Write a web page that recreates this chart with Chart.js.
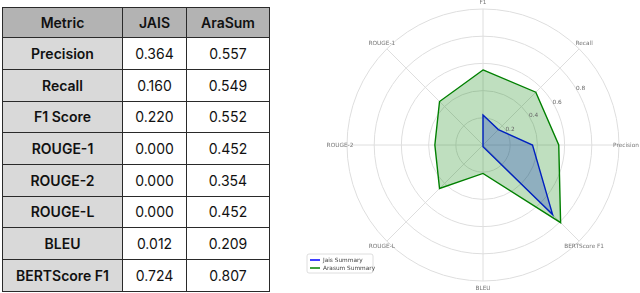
<!DOCTYPE html>
<html lang="en">
<head>
    <meta charset="UTF-8">
    <title>JAIS vs AraSum</title>
    <script src="https://cdn.jsdelivr.net/npm/chart.js"></script>
    <style>
        html, body { margin: 0; padding: 0; background: #fff; width: 640px; height: 293px; overflow: hidden; }
        #scores {
            position: absolute; left: 2px; top: 7px;
            border-collapse: collapse; table-layout: fixed;
            font-family: Inter, "Noto Sans", sans-serif; font-size: 14px; color: #111;
        }
        #scores td, #scores th {
            border: 1.5px solid #2a2a2a; text-align: center; padding: 0;
            height: 30.7px; background: #fff; font-weight: 400;
        }
        #scores th { background: #b3b3b3; font-weight: 600; height: 29.2px; }
        #scores td.name { background: #d9d9d9; font-weight: 600; }
        #radarBox { position: absolute; left: 300px; top: 0; width: 340px; height: 293px; }
    </style>
</head>
<body>
    <table id="scores">
        <colgroup><col style="width:120px"><col style="width:64px"><col style="width:83px"></colgroup>
        <thead><tr id="head"></tr></thead>
        <tbody id="rows"></tbody>
    </table>
    <div id="radarBox"><canvas id="radar"></canvas></div>

    <script>
        // table data
        const columns = ['Metric', 'JAIS', 'AraSum'];
        const metrics = ['Precision', 'Recall', 'F1 Score', 'ROUGE-1', 'ROUGE-2', 'ROUGE-L', 'BLEU', 'BERTScore F1'];
        const jaisScores = [0.364, 0.160, 0.220, 0.000, 0.000, 0.000, 0.012, 0.724];
        const arasumScores = [0.557, 0.549, 0.552, 0.452, 0.354, 0.452, 0.209, 0.807];

        // radar axes, clockwise from the top, and which metric each one shows
        const radarLabels = ['F1', 'Recall', 'Precision', 'BERTScore F1', 'BLEU', 'ROUGE-L', 'ROUGE-2', 'ROUGE-1'];
        const radarOrder = [2, 1, 0, 7, 6, 5, 4, 3];
        const tickValues = [0.2, 0.4, 0.6, 0.8];
        const seriesNames = ['Jais Summary', 'Arasum Summary'];

        document.getElementById('head').innerHTML = columns.map(c => `<th>${c}</th>`).join('');
        document.getElementById('rows').innerHTML = metrics.map((m, i) => `
            <tr><td class="name">${m}</td><td>${jaisScores[i].toFixed(3)}</td><td>${arasumScores[i].toFixed(3)}</td></tr>
        `).join('');

        const smallFont = '5.8px "DejaVu Sans", sans-serif';

        // axis labels, r tick labels and legend, matplotlib style
        const polarExtras = {
            id: 'polarExtras',
            afterDatasetsDraw(chart) {
                const ctx = chart.ctx;
                const scale = chart.scales.r;
                ctx.save();
                ctx.font = smallFont;
                ctx.textAlign = 'center';
                ctx.textBaseline = 'middle';

                ctx.fillStyle = '#777';
                radarLabels.forEach((lab, i) => {
                    const p = scale.getPointPosition(i, scale.drawingArea + 7);
                    ctx.fillText(lab, p.x, p.y);
                });

                ctx.fillStyle = '#666';
                const a = Math.PI / 6;
                tickValues.forEach(v => {
                    const d = scale.getDistanceFromCenterForValue(v) + 4;
                    ctx.fillText(v.toFixed(1), scale.xCenter + d * Math.cos(a), scale.yCenter - d * Math.sin(a));
                });

                // legend
                const bx = chart.chartArea.left - 40, by = chart.chartArea.bottom - 27;
                ctx.fillStyle = 'rgba(255,255,255,0.8)';
                ctx.strokeStyle = '#d6d6d6';
                ctx.lineWidth = 0.8;
                ctx.beginPath();
                ctx.roundRect(bx, by, 66, 19, 2);
                ctx.fill();
                ctx.stroke();
                ctx.textAlign = 'left';
                chart.data.datasets.forEach((ds, i) => {
                    const y = by + 6 + i * 8;
                    ctx.strokeStyle = ds.borderColor;
                    ctx.lineWidth = 1.5;
                    ctx.beginPath();
                    ctx.moveTo(bx + 3, y);
                    ctx.lineTo(bx + 13, y);
                    ctx.stroke();
                    ctx.fillStyle = '#444';
                    ctx.fillText(ds.label, bx + 16, y);
                });
                ctx.restore();
            }
        };

        new Chart(document.getElementById('radar'), {
            type: 'radar',
            data: {
                labels: radarLabels,
                datasets: [
                    {
                        label: seriesNames[0],
                        data: radarOrder.map(i => jaisScores[i]),
                        borderColor: '#0000ff',
                        backgroundColor: 'rgba(0,0,255,0.25)',
                        borderWidth: 1.4,
                        pointRadius: 0,
                        fill: true,
                        order: 2
                    },
                    {
                        label: seriesNames[1],
                        data: radarOrder.map(i => arasumScores[i]),
                        borderColor: '#008000',
                        backgroundColor: 'rgba(0,128,0,0.25)',
                        borderWidth: 1.4,
                        pointRadius: 0,
                        fill: true,
                        order: 1
                    }
                ]
            },
            options: {
                responsive: true,
                maintainAspectRatio: false,
                animation: false,
                layout: { padding: { left: 47, right: 21, top: 9, bottom: 12 } },
                plugins: { legend: { display: false }, tooltip: { enabled: false } },
                elements: { line: { tension: 0 } },
                scales: {
                    r: {
                        min: 0,
                        max: 1,
                        ticks: { display: false, stepSize: 0.2 },
                        grid: { circular: true, color: '#dedede', lineWidth: 1 },
                        angleLines: { color: '#dedede', lineWidth: 1 },
                        pointLabels: { display: false }
                    }
                }
            },
            plugins: [polarExtras]
        });
    </script>
</body>
</html>
